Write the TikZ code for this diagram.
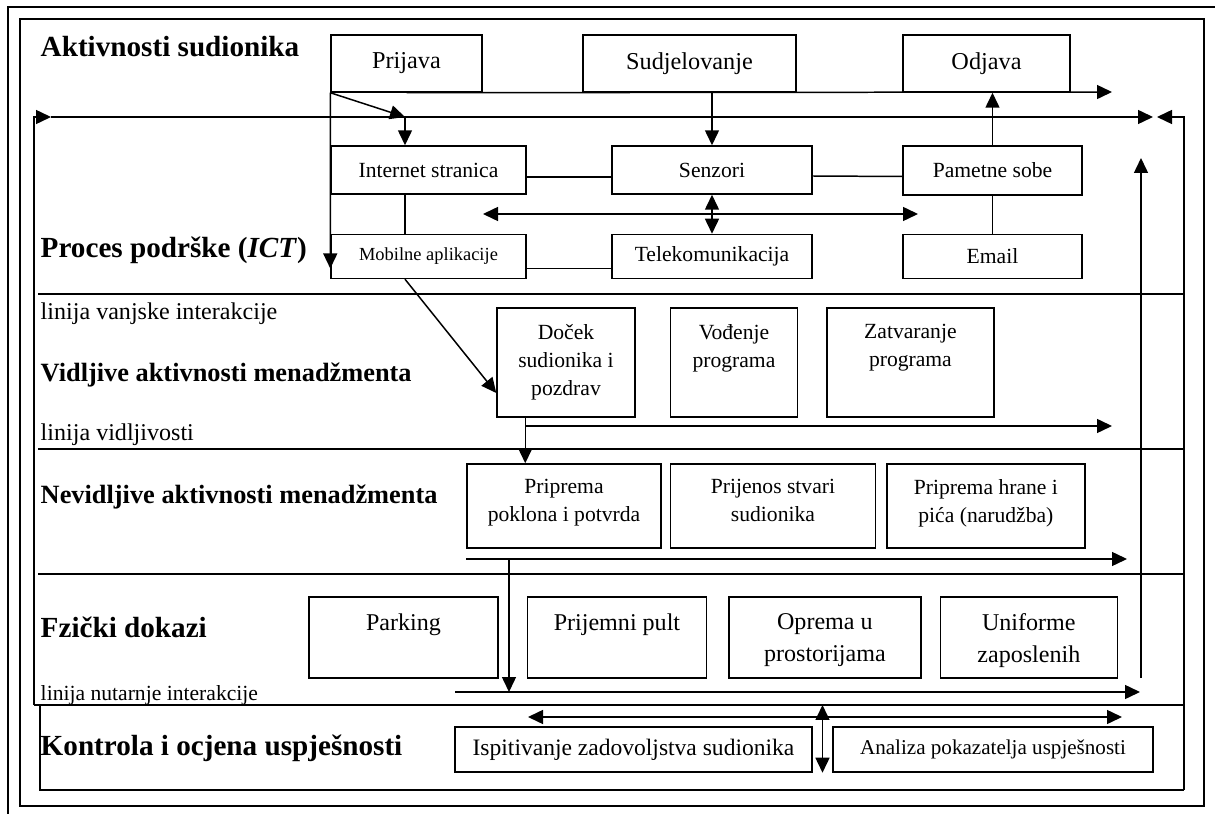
\documentclass[tikz,border=0pt]{standalone}
\usepackage{fontspec}
\setmainfont{Liberation Serif}
\usetikzlibrary{arrows.meta,positioning,calc}

\tikzset{
	every path/.style={line width=0.85pt},
	box/.style={draw, inner sep=0pt, align=center},
	arr/.style={-{Triangle[length=0.3cm,width=0.28cm]}},
	biarr/.style={{Triangle[length=0.3cm,width=0.28cm]}-{Triangle[length=0.3cm,width=0.28cm]}},
	lane/.style={anchor=base west, inner sep=0pt, font=\fontsize{16.6}{20}\selectfont\bfseries},
	lanemid/.style={lane, font=\fontsize{15}{18}\selectfont\bfseries},
	linetxt/.style={anchor=base west, inner sep=0pt, font=\fontsize{13.7}{16}\selectfont},
	toprow/.style={font=\fontsize{13.8}{16}\selectfont},
	ict/.style={font=\fontsize{12.3}{15}\selectfont},
	toptext/.style={anchor=north, align=center, inner sep=0pt, yshift=-0.33cm, font=\fontsize{12.3}{16}\selectfont},
	phystext/.style={anchor=north, align=center, inner sep=0pt, yshift=-0.33cm, font=\fontsize{13.7}{18.2}\selectfont},
}

\begin{document}
\begin{tikzpicture}[x=0.02cm,y=-0.02cm]
	\useasboundingbox (0,0) rectangle (1215,814);
	\draw (1215,7) -- (8,7) -- (8,814);
	\draw (20,19) rectangle (1204,806);
	%
	\coordinate (lt) at (34,117);
	\coordinate (lb) at (34,705);
	\coordinate (ltip) at (51,117);
	\coordinate (rtip) at (1153,117);
	\coordinate (rt) at (1184,117);
	\coordinate (rb) at (1184,790);
	\coordinate (rtipb) at (1157,117);
	\draw[arr] (lb) -- (lt) -- (ltip);
	\draw[arr] (ltip) -- (rtip);
	\draw[arr] (rb) -- (rt) -- (rtipb);
	\draw (38,294) -- (1184,294);
	\draw (38,449) -- (1184,449);
	\draw (38,574) -- (1184,574);
	\draw (lb) -- (1184,705);
	\draw (40,705) -- (40,790) -- (rb);
	%
	\node[lane] (akt) at (40,57) {Aktivnosti sudionika};
	\node[lane] (proc) at (40,258) {Proces podrške (\textit{ICT})};
	\node[linetxt] (linvanj) at (40,320) {linija vanjske interakcije};
	\node[lanemid] (vidlj) at (40,382) {Vidljive aktivnosti menadžmenta};
	\node[linetxt] (linvid) at (40,440) {linija vidljivosti};
	\node[lanemid] (nevid) at (40,503) {Nevidljive aktivnosti menadžmenta};
	\node[lane] (fiz) at (40,637) {Fzički dokazi};
	\node[linetxt, font=\fontsize{12.3}{15}\selectfont] (linnut) at (40,700) {linija nutarnje interakcije};
	\node[lane] (kontr) at (40,755) {Kontrola i ocjena uspješnosti};
	%
	\node[box, toprow, minimum width=3.02cm, minimum height=1.14cm] (prijava) at (406.5,63.5) {Prijava};
	\node[box, toprow, minimum width=4.26cm, minimum height=1.14cm] (sudj) at (689.5,63.5) {Sudjelovanje};
	\node[box, toprow, minimum width=3.34cm, minimum height=1.14cm] (odjava) at (986.5,63.5) {Odjava};
	%
	\node[box, ict, minimum width=3.9cm, minimum height=0.96cm] (inet) at (428.5,170) {Internet stranica};
	\node[box, ict, minimum width=4cm, minimum height=0.96cm] (senz) at (712,170) {Senzori};
	\node[box, ict, minimum width=3.58cm, minimum height=0.98cm] (pam) at (992.5,170.5) {Pametne sobe};
	\node[box, font=\fontsize{10.5}{13}\selectfont, minimum width=3.9cm, minimum height=0.88cm, below=0.78cm of inet] (mob) {Mobilne aplikacije};
	\node[box, ict, minimum width=4cm, minimum height=0.88cm, below=0.78cm of senz] (tele) {Telekomunikacija};
	\node[box, ict, minimum width=3.58cm, minimum height=0.88cm, below=0.76cm of pam] (email) {Email};
	%
	\node[box, minimum width=2.76cm, minimum height=2.18cm, label={[toptext]north:{Doček\\sudionika i\\pozdrav}}] (docek) at (566,362.5) {};
	\node[box, minimum width=2.54cm, minimum height=2.18cm, right=0.68cm of docek, label={[toptext]north:{Vođenje\\programa}}] (vodj) {};
	\node[box, minimum width=3.34cm, minimum height=2.18cm, right=0.56cm of vodj, label={[toptext]north:{Zatvaranje\\programa}}] (zatv) {};
	%
	\node[box, minimum width=3.88cm, minimum height=1.68cm, label={[toptext, yshift=0.02cm]north:{Priprema\\poklona i potvrda}}] (pripr) at (564,506) {};
	\node[box, minimum width=4.1cm, minimum height=1.68cm, right=0.16cm of pripr, label={[toptext, yshift=0.02cm]north:{Prijenos stvari\\sudionika}}] (prijen) {};
	\node[box, minimum width=3.96cm, minimum height=1.68cm, right=0.2cm of prijen, label={[toptext, yshift=0.02cm]north:{Priprema hrane i\\pića (narudžba)}}] (hrana) {};
	%
	\node[box, minimum width=3.78cm, minimum height=1.62cm, label={[phystext]north:Parking}] (parking) at (403.5,637.5) {};
	\node[box, minimum width=3.58cm, minimum height=1.62cm, right=0.56cm of parking, label={[phystext]north:Prijemni pult}] (pult) {};
	\node[box, minimum width=3.84cm, minimum height=1.62cm, right=0.42cm of pult, label={[phystext]north:{Oprema u\\prostorijama}}] (oprema) {};
	\node[box, minimum width=3.54cm, minimum height=1.62cm, right=0.36cm of oprema, label={[phystext]north:{Uniforme\\zaposlenih}}] (uniform) {};
	%
	\node[box, font=\fontsize{13.4}{16}\selectfont, minimum width=7.14cm, minimum height=0.9cm] (ispit) at (633.5,749.5) {Ispitivanje zadovoljstva sudionika};
	\node[box, font=\fontsize{12}{15}\selectfont, minimum width=6.4cm, minimum height=0.9cm] (anal) at (993,749.5) {Analiza pokazatelja uspješnosti};
	%
	\coordinate (aend) at (1112,92);
	\coordinate (pj) at (405,117);
	\draw[arr] (prijava.south) -- (aend);
	\draw[arr] (prijava.south west) -- ([yshift=-0.24cm]mob.west);
	\draw[arr] (prijava.south west) -- (pj);
	\draw[arr] (pj) -- (pj |- inet.north);
	\draw[arr] (sudj.south -| senz.north) -- (senz.north);
	\draw[arr] (pam.north) -- (pam.north |- odjava.south);
	%
	\coordinate (hl) at (483,214);
	\coordinate (hr) at (918,214);
	\draw ([yshift=-0.14cm]inet.east) -- ([yshift=-0.14cm]senz.west);
	\draw ([yshift=-0.12cm]senz.east) -- ([yshift=-0.12cm]pam.west);
	\draw ([yshift=-0.24cm]mob.east) -- ([yshift=-0.24cm]tele.west);
	\draw (inet.south -| pj) -- (mob.north -| pj);
	\draw (email.north) -- (pam.south);
	\draw[biarr] (hl) -- (hr);
	\draw[biarr] (senz.south) -- (tele.north);
	\draw[arr] (mob.south -| pj) -- ([yshift=-0.61cm]docek.west);
	%
	\coordinate (dv) at ($(docek.south west)+(29,0)$);
	\coordinate (vidend) at (1112,426);
	\draw[arr] (dv) -- (dv |- pripr.north);
	\draw[arr] (dv |- vidend) -- (vidend);
	%
	\coordinate (nl) at (466,559);
	\coordinate (nr) at (1127,559);
	\coordinate (nv) at (509,559);
	\coordinate (nutl) at (455,692);
	\coordinate (nutr) at (1140,692);
	\draw[arr] (nl) -- (nr);
	\draw[arr] (nv) -- (nv |- nutl);
	\draw[arr] (nutl) -- (nutr);
	\coordinate (ub) at (1141,678);
	\coordinate (ut) at (1141,158);
	\draw[arr] (ub) -- (ut);
	%
	\coordinate (kl) at (528,717);
	\coordinate (kr) at (1122,717);
	\coordinate (kv) at ($(ispit.east)!0.5!(anal.west)$);
	\draw[biarr] (kl) -- (kr);
	\draw[biarr] (kv |- lb) -- (kv |- ispit.south);
\end{tikzpicture}
\end{document}
